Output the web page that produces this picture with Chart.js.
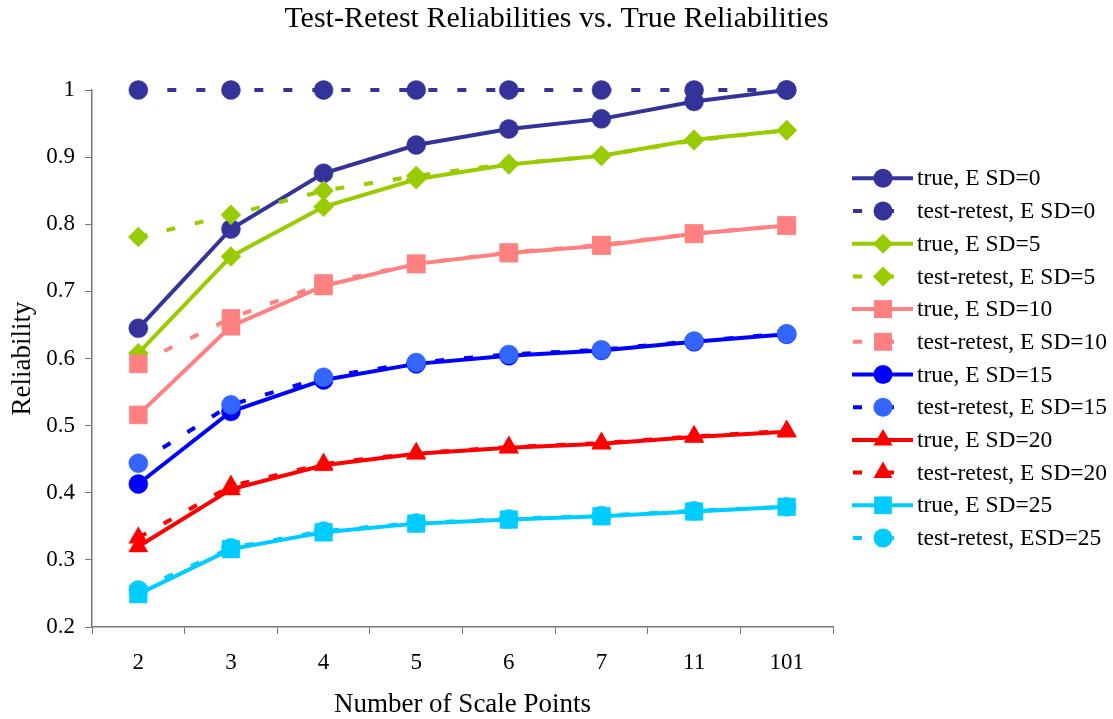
<!DOCTYPE html>
<html>
<head>
<meta charset="utf-8">
<script src="https://cdn.jsdelivr.net/npm/chart.js@4/dist/chart.umd.min.js"></script>
<style>
  html, body { margin: 0; padding: 0; background: #fff; }
  #wrap { width: 1113px; height: 719px; position: relative; }
</style>
</head>
<body>
<div id="wrap"><canvas id="c" width="1113" height="719"></canvas></div>
<script>
const categories = ['2', '3', '4', '5', '6', '7', '11', '101'];
const yTicks = [0.2, 0.3, 0.4, 0.5, 0.6, 0.7, 0.8, 0.9, 1];
const chartTitle = 'Test-Retest Reliabilities vs. True Reliabilities';

const trueSD0    = [0.645, 0.793, 0.876, 0.918, 0.942, 0.957, 0.983, 1.000];
const retestSD0  = [1.000, 1.000, 1.000, 1.000, 1.000, 1.000, 1.000, 1.000];
const trueSD5    = [0.608, 0.752, 0.826, 0.867, 0.889, 0.902, 0.926, 0.940];
const retestSD5  = [0.781, 0.814, 0.850, 0.872, 0.890, 0.902, 0.925, 0.940];
const trueSD10   = [0.516, 0.648, 0.708, 0.741, 0.757, 0.768, 0.786, 0.798];
const retestSD10 = [0.592, 0.660, 0.712, 0.741, 0.758, 0.769, 0.786, 0.798];
const trueSD15   = [0.413, 0.521, 0.568, 0.592, 0.604, 0.612, 0.625, 0.636];
const retestSD15 = [0.444, 0.531, 0.572, 0.594, 0.606, 0.613, 0.626, 0.637];
const trueSD20   = [0.320, 0.405, 0.441, 0.458, 0.467, 0.473, 0.483, 0.491];
const retestSD20 = [0.333, 0.410, 0.443, 0.459, 0.468, 0.474, 0.484, 0.492];
const trueSD25   = [0.249, 0.316, 0.341, 0.354, 0.360, 0.365, 0.372, 0.379];
const retestSD25 = [0.255, 0.318, 0.343, 0.355, 0.361, 0.366, 0.373, 0.379];

const seriesLabels = [
  'true, E SD=0', 'test-retest, E SD=0',
  'true, E SD=5', 'test-retest, E SD=5',
  'true, E SD=10', 'test-retest, E SD=10',
  'true, E SD=15', 'test-retest, E SD=15',
  'true, E SD=20', 'test-retest, E SD=20',
  'true, E SD=25', 'test-retest, ESD=25'
];

const FONT = '"Liberation Serif", "Times New Roman", Times, serif';
const DASH = [9, 20];

const styles = [
  { line: '#333399', mark: '#333399', shape: 'circle',   r: 9.5, dash: false },
  { line: '#333399', mark: '#333399', shape: 'circle',   r: 9.5, dash: true },
  { line: '#99CC00', mark: '#99CC00', shape: 'rectRot',  r: 10,  dash: false },
  { line: '#99CC00', mark: '#99CC00', shape: 'rectRot',  r: 10,  dash: true },
  { line: '#FF8080', mark: '#FF8080', shape: 'rect',     r: 12.7, dash: false },
  { line: '#FF8080', mark: '#FF8080', shape: 'rect',     r: 12.7, dash: true },
  { line: '#0000FF', mark: '#0000FF', shape: 'circle',   r: 9.5, dash: false },
  { line: '#0000FF', mark: '#3366FF', shape: 'circle',   r: 9.5, dash: true },
  { line: '#FF0000', mark: '#FF0000', shape: 'triangle', r: 11,  dash: false },
  { line: '#FF0000', mark: '#FF0000', shape: 'triangle', r: 11,  dash: true },
  { line: '#00CCFF', mark: '#00CCFF', shape: 'rect',     r: 12.5, dash: false },
  { line: '#00CCFF', mark: '#00CCFF', shape: 'circle',   r: 9.5, dash: true }
];

const seriesData = [trueSD0, retestSD0, trueSD5, retestSD5, trueSD10, retestSD10,
                    trueSD15, retestSD15, trueSD20, retestSD20, trueSD25, retestSD25];

const datasets = seriesData.map((d, i) => {
  const s = styles[i];
  return {
    label: seriesLabels[i],
    data: d,
    borderColor: s.line,
    backgroundColor: s.mark,
    borderWidth: 4,
    borderDash: s.dash ? DASH : [],
    pointStyle: s.shape,
    pointRadius: s.r,
    pointHoverRadius: s.r,
    pointBackgroundColor: s.mark,
    pointBorderColor: s.mark,
    pointBorderWidth: 0.5,
    tension: 0,
    fill: false,
    clip: false,
    order: 100 - i
  };
});

function drawMarker(ctx, shape, x, y, r, color) {
  ctx.save();
  ctx.fillStyle = color;
  ctx.beginPath();
  if (shape === 'circle') {
    ctx.arc(x, y, r, 0, Math.PI * 2);
  } else if (shape === 'rect') {
    const s = Math.SQRT1_2 * r;
    ctx.rect(x - s, y - s, 2 * s, 2 * s);
  } else if (shape === 'rectRot') {
    ctx.moveTo(x, y - r); ctx.lineTo(x + r, y); ctx.lineTo(x, y + r); ctx.lineTo(x - r, y);
    ctx.closePath();
  } else if (shape === 'triangle') {
    const a = 2 * Math.PI / 3;
    ctx.moveTo(x, y - r);
    ctx.lineTo(x + Math.sin(a) * r, y - Math.cos(a) * r);
    ctx.lineTo(x - Math.sin(a) * r, y - Math.cos(a) * r);
    ctx.closePath();
  }
  ctx.fill();
  ctx.restore();
}

const titleAndLegendPlugin = {
  id: 'titleAndLegend',
  afterDraw(chart) {
    const ctx = chart.ctx;
    // title, centred on the full canvas width
    ctx.save();
    ctx.fillStyle = '#000';
    ctx.font = '30px ' + FONT;
    ctx.textAlign = 'center';
    ctx.textBaseline = 'alphabetic';
    ctx.fillText(chartTitle, chart.width / 2, 27);
    ctx.restore();

    // legend
    const x0 = 852, x1 = 913, xm = 883, xt = 917;
    const y0 = 178.3, dy = 32.7;
    chart.data.datasets.forEach((ds, i) => {
      const s = styles[i];
      const y = y0 + i * dy;
      ctx.save();
      ctx.strokeStyle = s.line;
      ctx.lineWidth = 4;
      ctx.beginPath();
      if (s.dash) {
        ctx.moveTo(853, y); ctx.lineTo(862, y);
        ctx.moveTo(884, y); ctx.lineTo(894, y);
      } else {
        ctx.moveTo(x0, y); ctx.lineTo(x1, y);
      }
      ctx.stroke();
      ctx.restore();
      drawMarker(ctx, s.shape, xm, y, s.r, s.mark);
      ctx.save();
      ctx.fillStyle = '#000';
      ctx.font = '23.5px ' + FONT;
      ctx.textAlign = 'left';
      ctx.textBaseline = 'middle';
      ctx.fillText(ds.label, xt, y + 1);
      ctx.restore();
    });
  }
};

new Chart(document.getElementById('c'), {
  type: 'line',
  data: { labels: categories, datasets: datasets },
  options: {
    responsive: false,
    animation: false,
    events: [],
    layout: { padding: { top: 90, right: 280, bottom: 0, left: 0 } },
    plugins: {
      legend: { display: false },
      tooltip: { enabled: false },
      title: { display: false }
    },
    scales: {
      x: {
        type: 'category',
        offset: true,
        grid: { offset: true, drawOnChartArea: false, drawTicks: true, tickLength: 7, color: '#777', lineWidth: 1 },
        border: { color: '#777', width: 1.5 },
        ticks: { color: '#000', font: { family: FONT, size: 23 }, padding: 15, maxRotation: 0, autoSkip: false },
        title: {
          display: true, text: 'Number of Scale Points', color: '#000',
          font: { family: FONT, size: 27 }, padding: { top: 0, bottom: -2 }
        },
        afterFit(scale) { scale.height = 92; }
      },
      y: {
        min: 0.2, max: 1,
        afterBuildTicks(scale) { scale.ticks = yTicks.map(v => ({ value: v })); },
        grid: { drawOnChartArea: false, drawTicks: true, tickLength: 7, color: '#777', lineWidth: 1 },
        border: { color: '#777', width: 1.5 },
        ticks: {
          color: '#000', font: { family: FONT, size: 23 }, padding: 10,
          callback: v => String(Math.round(v * 10) / 10)
        },
        title: {
          display: true, text: 'Reliability', color: '#000',
          font: { family: FONT, size: 27 }, padding: { top: 7, bottom: 0 }
        },
        afterFit(scale) { scale.width = 92; }
      }
    }
  },
  plugins: [titleAndLegendPlugin]
});
</script>
</body>
</html>
